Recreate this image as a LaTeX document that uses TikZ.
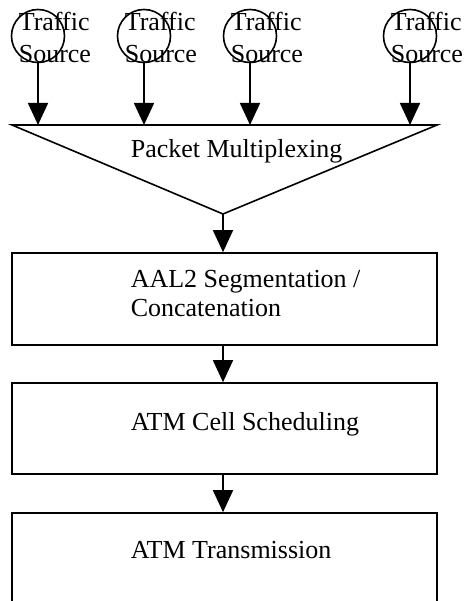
\documentclass[tikz,border=0pt]{standalone}
\usepackage{fontspec}
\setmainfont{Liberation Serif}
\usetikzlibrary{arrows.meta}
\begin{document}
\begin{tikzpicture}[x=1pt,y=-1pt,
  line width=1.6pt,
  src/.style={circle,draw,line width=1.6pt,minimum size=53pt,inner sep=0pt},
  lbl/.style={anchor=base west,inner sep=0pt,font=\fontsize{26}{31}\selectfont},
  stage/.style={draw,rectangle,line width=1.6pt,minimum width=425pt,inner sep=0pt},
  flow/.style={line width=1.6pt,-{Triangle[length=22pt,width=20pt]}}]
\useasboundingbox (0,0) rectangle (465,601);
\clip (0,0) rectangle (465,601);
% traffic sources
\foreach \i/\x in {1/38,2/144,3/250,4/410}{
  \node[src] (s\i) at (\x,36) {};
  \node[lbl] (ta\i) at (\x-20,31) {Traffic};
  \node[lbl] (tb\i) at (\x-20,63) {Source};
  \coordinate (m\i) at (\x,125);
}
% multiplexer triangle
\coordinate (tl) at (12,125);
\coordinate (tr) at (437,125);
\coordinate (ap) at (223,214);
\draw[line width=1.6pt] (tl) -- (tr) -- (ap) -- cycle;
\node[lbl] (pm) at (130,158) {Packet Multiplexing};
\foreach \i in {1,2,3,4}{
  \draw[flow] (s\i.south) -- (m\i);
}
% stages
\node[stage,minimum height=92pt] (b1) at (224.5,299) {};
\node[lbl] (l1a) at (130,287) {AAL2 Segmentation /};
\node[lbl] (l1b) at (130,316) {Concatenation};
\node[stage,minimum height=91pt] (b2) at (224.5,428.5) {};
\node[lbl] (l2) at (130,430) {ATM Cell Scheduling};
\node[stage,minimum height=140pt] (b3) at (224.5,583) {};
\node[lbl] (l3) at (130,558) {ATM Transmission};
% connectors
\draw[flow] (ap) -- (ap |- b1.north);
\draw[flow] (ap |- b1.south) -- (ap |- b2.north);
\draw[flow] (ap |- b2.south) -- (ap |- b3.north);
\end{tikzpicture}
\end{document}
